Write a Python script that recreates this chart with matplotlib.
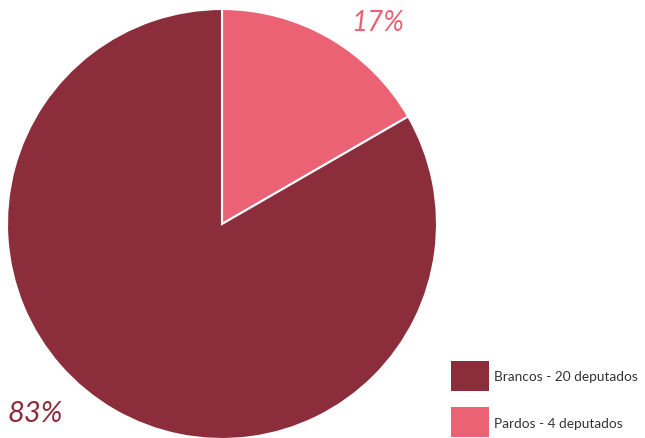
import matplotlib
matplotlib.use("Agg")
import matplotlib.pyplot as plt
from matplotlib.patches import Rectangle

# data
categories = ["Brancos - 20 deputados", "Pardos - 4 deputados"]
values = [20, 4]
pct_labels = ["83%", "17%"]
colors = ["#8B2D3A", "#EB6274"]

fig = plt.figure(figsize=(6.45, 4.39), dpi=100)
ax = fig.add_axes([0, 0, 1, 1])
ax.set_xlim(0, 645)
ax.set_ylim(0, 439)
ax.set_aspect("equal")
ax.axis("off")

# pie, clockwise from the top, pink slice first
ax.pie(values[::-1], colors=colors[::-1], startangle=90, counterclock=False,
       center=(222, 214), radius=215,
       wedgeprops=dict(edgecolor="white", linewidth=1.5))
ax.set_xlim(0, 645)
ax.set_ylim(0, 439)

font = "Lato"
ax.text(35, 25, pct_labels[0], color=colors[0], fontsize=21, family=font,
        style="italic", ha="center", va="center", zorder=5)
ax.text(378, 416, pct_labels[1], color=colors[1], fontsize=20, family=font,
        style="italic", ha="center", va="center", zorder=5)

# legend
for i, (lab, c) in enumerate(zip(categories, colors)):
    y = 62.5 - i * 46.5
    ax.add_patch(Rectangle((451, y - 15), 38, 30, facecolor=c, edgecolor="none"))
    ax.text(494, y - 1, lab, color="#333333", fontsize=9.8, family=font,
            va="center", ha="left")

fig.savefig("out.png", dpi=100)
